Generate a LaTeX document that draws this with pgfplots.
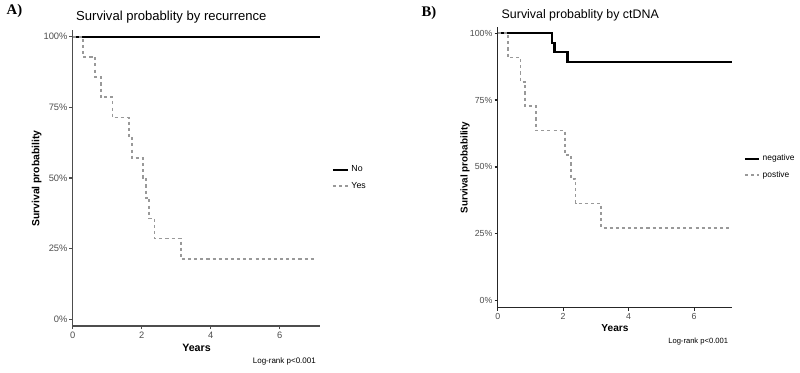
\documentclass[border=0pt]{standalone}
\usepackage{pgfplots}
\pgfplotsset{compat=1.18}
\usepackage{fontspec}
\setmainfont{Liberation Sans}
\newfontfamily\serifbold{Liberation Serif}
\definecolor{axisgrey}{HTML}{4D4D4D}
\definecolor{tickgrey}{HTML}{4D4D4D}
\definecolor{curvegrey}{HTML}{999999}

\pgfplotsset{
  kmaxis/.style={
    scale only axis,
    xmin=0, xmax=7.17,
    ymin=-0.024, ymax=1.024,
    axis x line*=bottom, axis y line*=left,
    axis line style={line width=1.1pt},
    xtick={0,2,4,6}, xticklabels={0,2,4,6},
    ytick={0,0.25,0.5,0.75,1},
    yticklabels={0\%,25\%,50\%,75\%,100\%},
    tick align=outside,
    major tick length=2.4pt,
    tick style={line width=0.8pt},
    ticklabel style={text=tickgrey},
    xticklabel style={yshift=1.5pt},
    yticklabel style={xshift=2pt},
    clip=false,
    legend cell align=left,
    legend style={draw=none, fill=none, anchor=west,
      row sep=2pt},
  },
  nostyle/.style={const plot, black, line width=1.8pt},
  yesstyle/.style={const plot, curvegrey, line width=1.3pt,
    dash pattern=on 2.3pt off 2.3pt},
}

\begin{document}
\begin{tikzpicture}[x=0.75pt, y=0.75pt]
\useasboundingbox (0,0) rectangle (800,372);

% ---------------- Panel A ----------------
\node[font=\serifbold\bfseries\fontsize{11}{12}\selectfont, anchor=west] at (2,361) {A)};
\begin{axis}[kmaxis,
  at={(54.525pt,34.5pt)}, anchor=south west,
  width=185.5pt, height=222pt,
  axis line style={line width=1.1pt, axisgrey},
  tick style={line width=0.8pt, axisgrey},
  ticklabel style={font=\fontsize{7}{8}\selectfont},
  legend style={at={(1.03,0.5)}, font=\fontsize{6.6}{8}\selectfont},
  legend image code/.code={\draw[#1] (0pt,0pt) -- (11pt,0pt);},
]
\addplot[nostyle] coordinates {(0,1) (7.17,1)};
\addlegendentry{No}
\addplot[yesstyle] coordinates {
  (0,1) (0.29,0.929) (0.65,0.857) (0.81,0.786) (1.15,0.714)
  (1.63,0.643) (1.71,0.571) (2.03,0.5) (2.12,0.429) (2.22,0.357)
  (2.37,0.286) (3.13,0.214) (7.07,0.214)};
\addlegendentry{Yes}
\end{axis}
\node[font=\fontsize{9.8}{11}\selectfont, anchor=west] at (71.5,355) {Survival probablity by recurrence};
\node[font=\bfseries\fontsize{7.8}{9}\selectfont, rotate=90] at (36.7,193.5) {Survival probability};
\node[font=\bfseries\fontsize{8}{9}\selectfont] at (196.5,24.5) {Years};
\node[font=\fontsize{6}{7}\selectfont, anchor=east] at (320.5,10.5) {Log-rank p<0.001};

% ---------------- Panel B ----------------
\node[font=\serifbold\bfseries\fontsize{11}{12}\selectfont, anchor=west] at (417,359) {B)};
\begin{axis}[kmaxis,
  at={(373.275pt,48.525pt)}, anchor=south west,
  width=176pt, height=210.5pt,
  axis line style={line width=1.05pt, black!85},
  tick style={line width=0.8pt, black!85},
  ticklabel style={font=\fontsize{6.6}{8}\selectfont},
  legend style={at={(1.03,0.5)}, font=\fontsize{6.3}{8}\selectfont},
  legend image code/.code={\draw[#1] (0pt,0pt) -- (10.5pt,0pt);},
]
\addplot[nostyle] coordinates {
  (0,1) (1.65,0.964) (1.73,0.929) (2.13,0.893) (7.17,0.893)};
\addlegendentry{negative}
\addplot[yesstyle] coordinates {
  (0,1) (0.31,0.909) (0.70,0.818) (0.84,0.727) (1.17,0.636)
  (2.05,0.545) (2.23,0.455) (2.38,0.364) (3.15,0.273) (7.1,0.273)};
\addlegendentry{postive}
\end{axis}
\node[font=\fontsize{9.3}{11}\selectfont, anchor=west] at (497,357) {Survival probablity by ctDNA};
\node[font=\bfseries\fontsize{7.4}{9}\selectfont, rotate=90] at (465,204.5) {Survival probability};
\node[font=\bfseries\fontsize{7.6}{9}\selectfont] at (615,44.3) {Years};
\node[font=\fontsize{5.7}{7}\selectfont, anchor=east] at (732.8,30.3) {Log-rank p<0.001};
\end{tikzpicture}
\end{document}
